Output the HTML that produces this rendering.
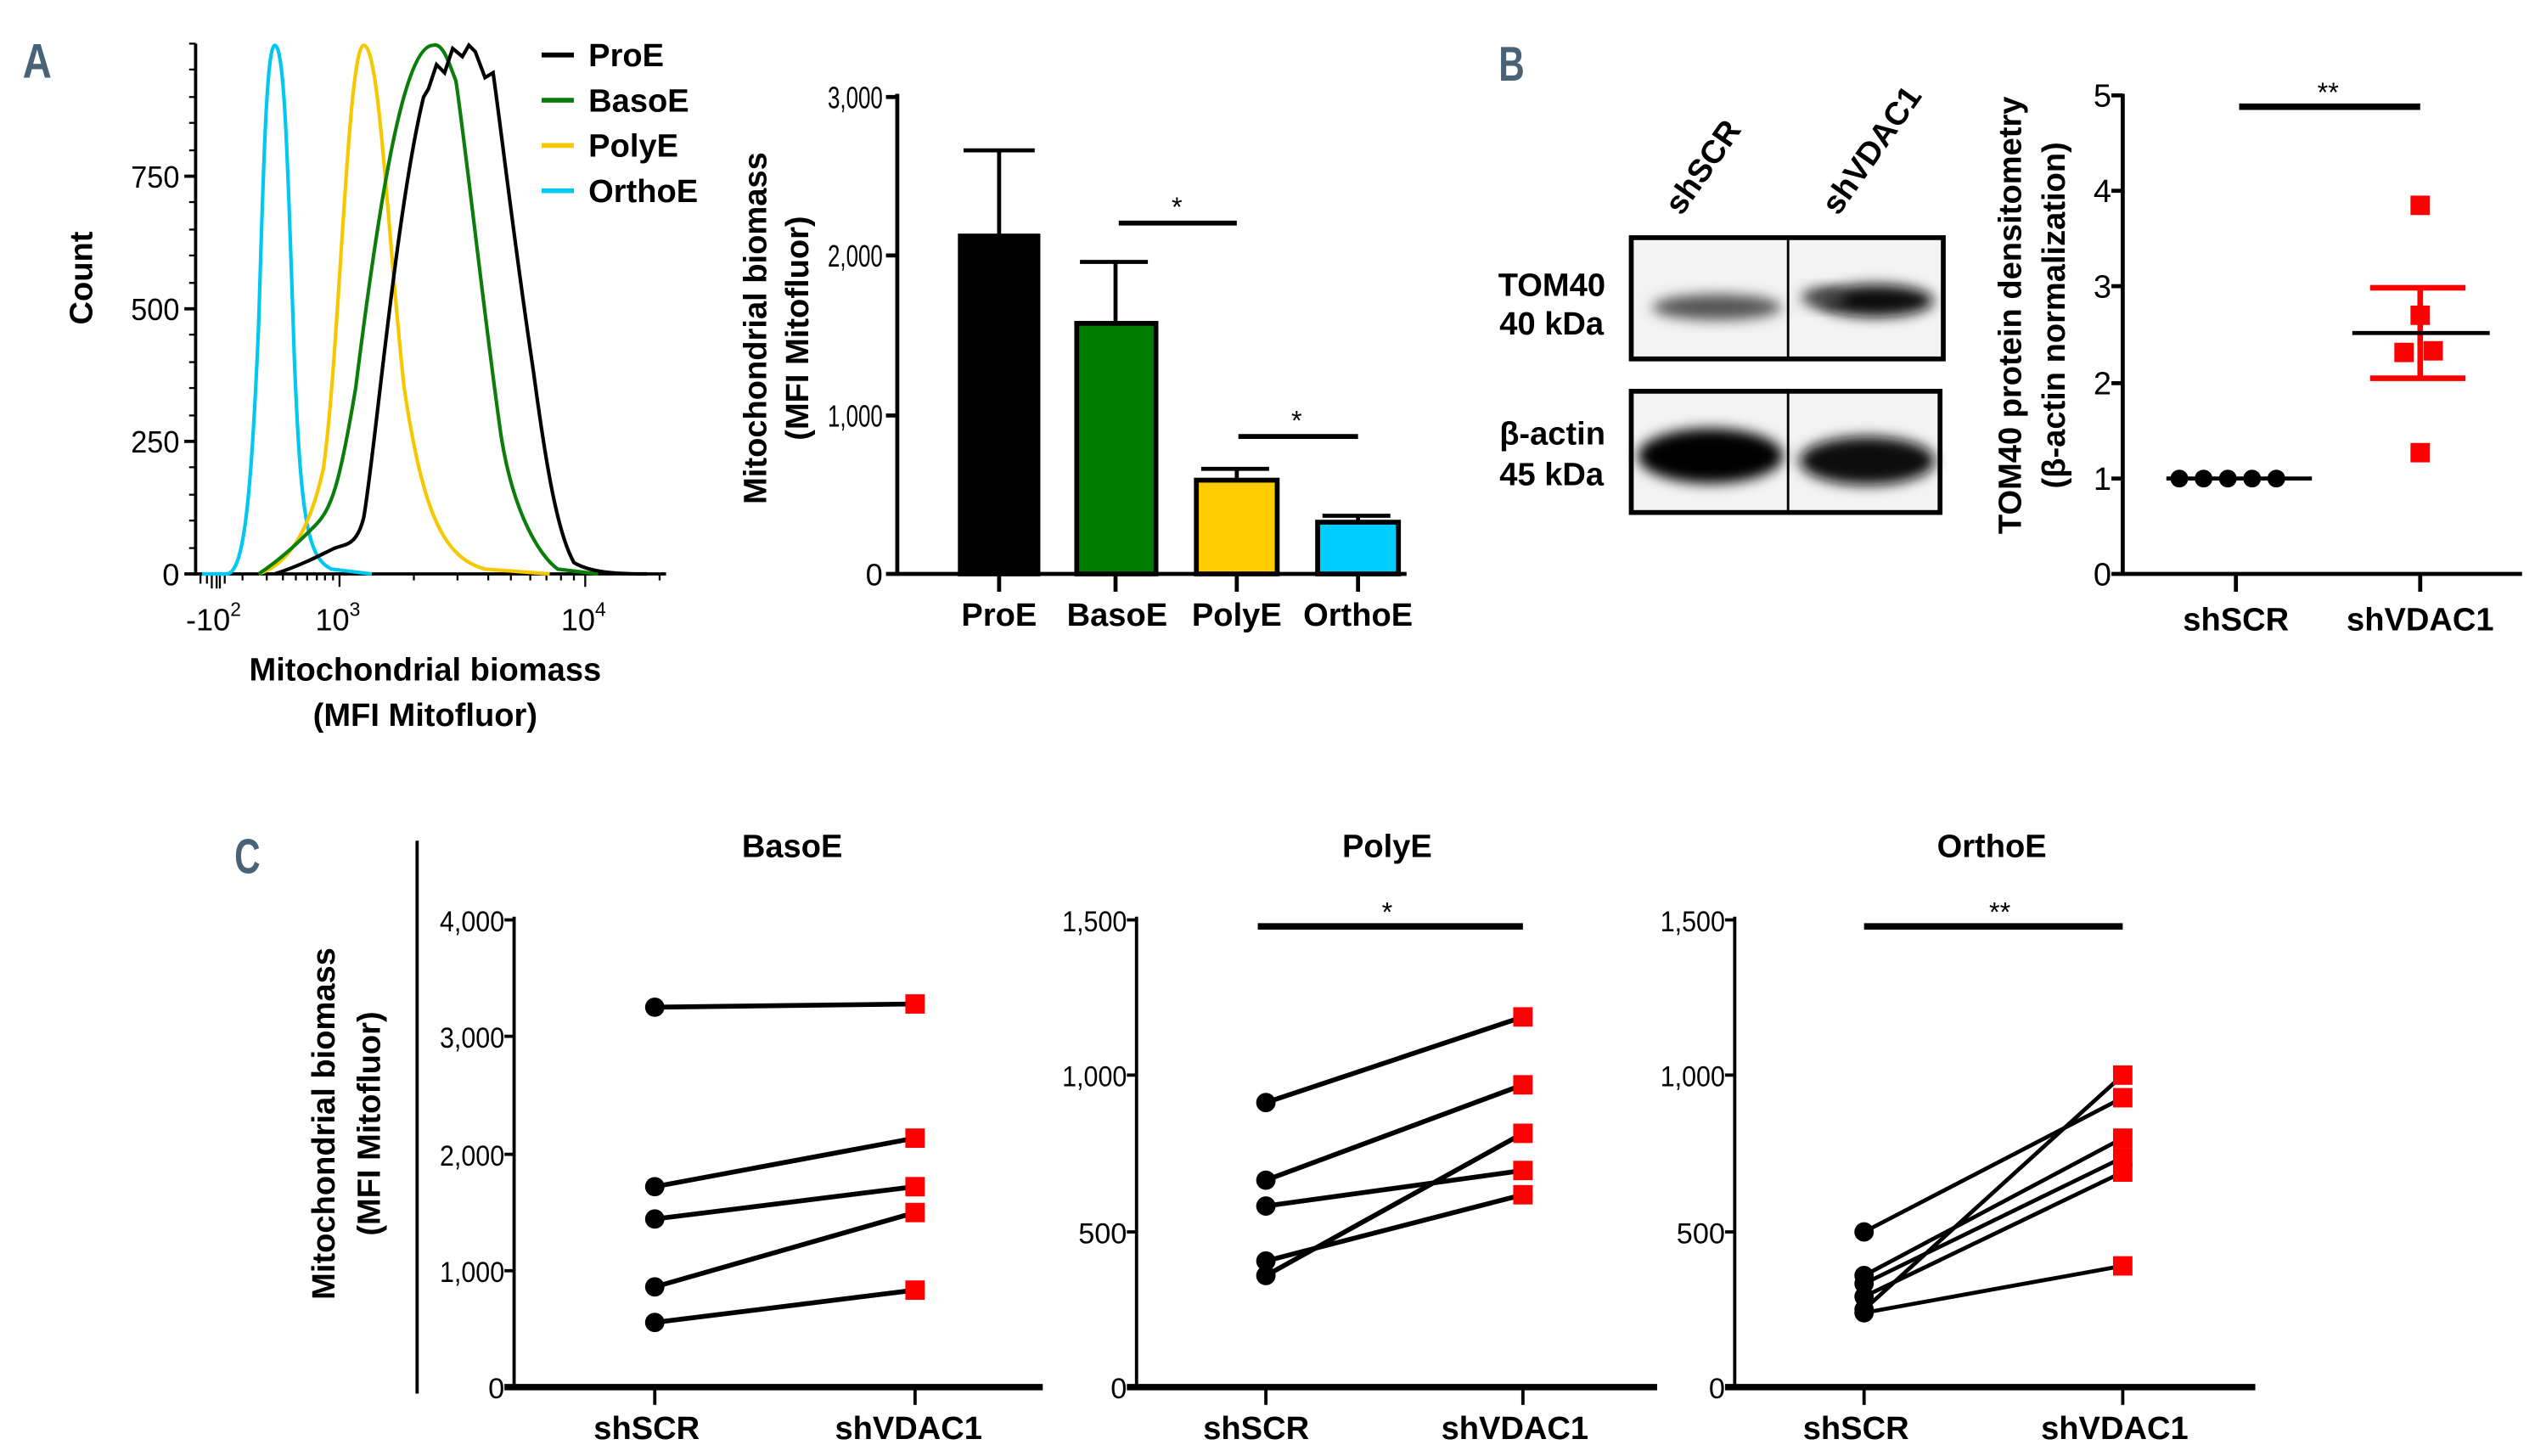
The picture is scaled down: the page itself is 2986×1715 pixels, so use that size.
<!DOCTYPE html>
<html><head><meta charset="utf-8"><style>
html,body{margin:0;padding:0;background:#fff;}
svg{display:block;}
text{font-family:"Liberation Sans",sans-serif;fill:#000;}
.b{font-weight:bold;}
.n{font-size:17px;}
</style></head><body>
<svg width="2986" height="1715" viewBox="0 0 1568 900.6" preserveAspectRatio="none" xmlns="http://www.w3.org/2000/svg">
<defs>
<filter id="bl" x="-20%" y="-50%" width="140%" height="200%"><feGaussianBlur stdDeviation="4"/></filter>
</defs>
<text x="14" y="48" font-size="30" style="fill:#4a6275" font-weight="bold" textLength="18" lengthAdjust="spacingAndGlyphs">A</text>
<text x="927" y="50" font-size="30" style="fill:#4a6275" font-weight="bold" textLength="16" lengthAdjust="spacingAndGlyphs">B</text>
<text x="145" y="540" font-size="30" style="fill:#4a6275" font-weight="bold" textLength="16" lengthAdjust="spacingAndGlyphs">C</text>

<!-- ===== Histogram ===== -->
<g stroke="#000" stroke-width="2" fill="none">
<line x1="121" y1="27" x2="121" y2="356"/>
<line x1="120" y1="355" x2="412" y2="355"/>
<line x1="114" y1="109" x2="121" y2="109"/><line x1="114" y1="191" x2="121" y2="191"/>
<line x1="114" y1="273" x2="121" y2="273"/><line x1="114" y1="355" x2="121" y2="355"/>
</g>
<g stroke="#000" stroke-width="1.2">
<line x1="117" y1="27" x2="121" y2="27"/><line x1="117" y1="43" x2="121" y2="43"/><line x1="117" y1="60" x2="121" y2="60"/><line x1="117" y1="76" x2="121" y2="76"/><line x1="117" y1="93" x2="121" y2="93"/>
<line x1="117" y1="125" x2="121" y2="125"/><line x1="117" y1="142" x2="121" y2="142"/><line x1="117" y1="158" x2="121" y2="158"/><line x1="117" y1="175" x2="121" y2="175"/>
<line x1="117" y1="207" x2="121" y2="207"/><line x1="117" y1="224" x2="121" y2="224"/><line x1="117" y1="240" x2="121" y2="240"/><line x1="117" y1="257" x2="121" y2="257"/>
<line x1="117" y1="289" x2="121" y2="289"/><line x1="117" y1="306" x2="121" y2="306"/><line x1="117" y1="322" x2="121" y2="322"/><line x1="117" y1="339" x2="121" y2="339"/>
<line x1="124" y1="355" x2="124" y2="361"/><line x1="128" y1="355" x2="128" y2="361"/><line x1="131" y1="355" x2="131" y2="364"/><line x1="134" y1="355" x2="134" y2="364"/><line x1="136" y1="355" x2="136" y2="364"/><line x1="139" y1="355" x2="139" y2="361"/>
<line x1="150" y1="355" x2="150" y2="359"/><line x1="165" y1="355" x2="165" y2="359"/><line x1="175" y1="355" x2="175" y2="359"/><line x1="183" y1="355" x2="183" y2="359"/><line x1="190" y1="355" x2="190" y2="359"/><line x1="196" y1="355" x2="196" y2="359"/><line x1="201" y1="355" x2="201" y2="359"/><line x1="206" y1="355" x2="206" y2="359"/>
<line x1="210" y1="355" x2="210" y2="363"/>
<line x1="256" y1="355" x2="256" y2="359"/><line x1="283" y1="355" x2="283" y2="359"/><line x1="302" y1="355" x2="302" y2="359"/><line x1="316" y1="355" x2="316" y2="359"/><line x1="328" y1="355" x2="328" y2="359"/><line x1="338" y1="355" x2="338" y2="359"/><line x1="347" y1="355" x2="347" y2="359"/><line x1="355" y1="355" x2="355" y2="359"/>
<line x1="362" y1="355" x2="362" y2="363"/><line x1="408" y1="355" x2="408" y2="359"/>
</g>
<g text-anchor="end" font-size="19">
<text x="111" y="116" textLength="30" lengthAdjust="spacingAndGlyphs">750</text>
<text x="111" y="198" textLength="30" lengthAdjust="spacingAndGlyphs">500</text>
<text x="111" y="280" textLength="30" lengthAdjust="spacingAndGlyphs">250</text>
<text x="111" y="362">0</text>
</g>
<text x="115" y="390" font-size="19">-10<tspan font-size="12" dy="-9">2</tspan></text>
<text x="195" y="390" font-size="19">10<tspan font-size="12" dy="-9">3</tspan></text>
<text x="347" y="390" font-size="19">10<tspan font-size="12" dy="-9">4</tspan></text>
<text class="b" font-size="20" transform="translate(57,172) rotate(-90)" text-anchor="middle">Count</text>
<text class="b" font-size="20" x="263" y="421" text-anchor="middle">Mitochondrial biomass</text>
<text class="b" font-size="20" x="263" y="449" text-anchor="middle">(MFI Mitofluor)</text>
<g fill="none" stroke-width="2.2">
<path stroke="#00c8f0" d="M125,355 L140,355 C150,355 155,320 160,200 C163,100 165,28 170,28 C176,28 178,100 182,220 C186,320 190,345 205,352 L230,355"/>
<path stroke="#f5c800" d="M160,355 C175,350 190,335 200,290 C210,220 215,28 225,28 C235,28 240,150 250,240 C262,320 275,345 300,352 L340,355"/>
<path stroke="#0a7d0a" d="M160,355 C175,345 185,335 195,325 C205,315 210,300 220,240 C235,120 250,28 268,28 C274,26 278,40 282,50 C288,90 300,200 310,270 C318,320 335,345 345,352 L370,355"/>
<path stroke="#000" d="M170,355 C185,350 195,345 205,340 C212,336 220,340 225,320 C232,280 245,130 262,60 L265,55 L270,40 L275,45 L280,30 L286,35 L290,28 L294,32 L300,48 L305,45 C310,80 318,150 330,230 C338,290 345,330 355,348 C365,354 380,355 400,355"/>
</g>
<g class="b" font-size="20">
<line x1="335" y1="34" x2="355" y2="34" stroke="#000" stroke-width="3"/><text x="364" y="41">ProE</text>
<line x1="335" y1="62" x2="355" y2="62" stroke="#0a7d0a" stroke-width="3"/><text x="364" y="69">BasoE</text>
<line x1="335" y1="90" x2="355" y2="90" stroke="#f5c800" stroke-width="3"/><text x="364" y="97">PolyE</text>
<line x1="335" y1="118" x2="355" y2="118" stroke="#00c8f0" stroke-width="3"/><text x="364" y="125">OrthoE</text>
</g>

<!-- ===== Bar chart ===== -->
<g stroke="#000" stroke-width="2.5">
<line x1="555" y1="58" x2="555" y2="356"/>
<line x1="548" y1="60" x2="555" y2="60"/><line x1="548" y1="158" x2="555" y2="158"/><line x1="548" y1="257" x2="555" y2="257"/>
<line x1="548" y1="355" x2="870" y2="355"/>
<line x1="618" y1="355" x2="618" y2="366"/><line x1="690" y1="355" x2="690" y2="366"/><line x1="765" y1="355" x2="765" y2="366"/><line x1="840" y1="355" x2="840" y2="366"/>
<line x1="618" y1="146" x2="618" y2="93"/><line x1="596" y1="93" x2="640" y2="93"/>
<line x1="690" y1="200" x2="690" y2="162"/><line x1="668" y1="162" x2="710" y2="162"/>
<line x1="765" y1="297" x2="765" y2="290"/><line x1="743" y1="290" x2="785" y2="290"/>
<line x1="840" y1="323" x2="840" y2="319"/><line x1="818" y1="319" x2="860" y2="319"/>
</g>
<rect x="594" y="146" width="48" height="209" fill="#000" stroke="#000" stroke-width="3"/>
<rect x="666" y="200" width="49" height="155" fill="#007d00" stroke="#000" stroke-width="3"/>
<rect x="740" y="297" width="50" height="58" fill="#ffcc00" stroke="#000" stroke-width="3"/>
<rect x="815" y="323" width="50" height="32" fill="#00ccff" stroke="#000" stroke-width="3"/>
<line x1="692" y1="138" x2="765" y2="138" stroke="#000" stroke-width="3"/>
<text x="728" y="134" font-size="17" text-anchor="middle">*</text>
<line x1="766" y1="270" x2="840" y2="270" stroke="#000" stroke-width="3"/>
<text x="802" y="266" font-size="17" text-anchor="middle">*</text>
<g font-size="19" text-anchor="end">
<text x="546" y="67" textLength="34" lengthAdjust="spacingAndGlyphs">3,000</text>
<text x="546" y="165" textLength="34" lengthAdjust="spacingAndGlyphs">2,000</text>
<text x="546" y="264" textLength="34" lengthAdjust="spacingAndGlyphs">1,000</text>
<text x="546" y="362">0</text>
</g>
<g class="b" font-size="20" text-anchor="middle">
<text x="618" y="387">ProE</text><text x="691" y="387">BasoE</text><text x="765" y="387">PolyE</text><text x="840" y="387">OrthoE</text>
</g>
<text class="b" font-size="20" transform="translate(474,203) rotate(-90)" text-anchor="middle">Mitochondrial biomass</text>
<text class="b" font-size="20" transform="translate(500,203) rotate(-90)" text-anchor="middle">(MFI Mitofluor)</text>

<!-- ===== Western blot ===== -->
<text class="b" font-size="20" transform="translate(1040,134) rotate(-55)">shSCR</text>
<text class="b" font-size="20" transform="translate(1137,134) rotate(-55)">shVDAC1</text>
<g class="b" font-size="20" text-anchor="end">
<text x="993" y="183">TOM40</text><text x="992" y="207">40 kDa</text>
<text x="993" y="275">β-actin</text><text x="992" y="300">45 kDa</text>
</g>
<rect x="1009" y="147" width="193" height="75" fill="#f3f3f3" stroke="#000" stroke-width="3"/>
<rect x="1009" y="242" width="191" height="75" fill="#f3f3f3" stroke="#000" stroke-width="3"/>
<ellipse cx="1062" cy="190" rx="40" ry="8" fill="#555" filter="url(#bl)"/>
<ellipse cx="1160" cy="186" rx="36" ry="10" fill="#111" filter="url(#bl)"/>
<ellipse cx="1128" cy="184" rx="14" ry="6" fill="#444" filter="url(#bl)"/>
<ellipse cx="1058" cy="282" rx="45" ry="17" fill="#000" filter="url(#bl)"/>
<ellipse cx="1155" cy="285" rx="42" ry="15" fill="#111" filter="url(#bl)"/>
<line x1="1106" y1="147" x2="1106" y2="222" stroke="#000" stroke-width="1.5"/>
<line x1="1106" y1="242" x2="1106" y2="317" stroke="#000" stroke-width="1.5"/>

<!-- ===== Scatter B ===== -->
<g stroke="#000" stroke-width="2.5">
<line x1="1313" y1="58" x2="1313" y2="356"/>
<line x1="1306" y1="59" x2="1313" y2="59"/><line x1="1306" y1="118" x2="1313" y2="118"/><line x1="1306" y1="177" x2="1313" y2="177"/><line x1="1306" y1="237" x2="1313" y2="237"/><line x1="1306" y1="296" x2="1313" y2="296"/>
<line x1="1306" y1="355" x2="1560" y2="355"/>
<line x1="1383" y1="355" x2="1383" y2="366"/><line x1="1497" y1="355" x2="1497" y2="366"/>
<line x1="1385" y1="66" x2="1497" y2="66" stroke-width="4"/>
<line x1="1340" y1="296" x2="1430" y2="296"/>
</g>
<text x="1440" y="63" font-size="17" text-anchor="middle">**</text>
<g fill="#000"><circle cx="1348" cy="296" r="5.5"/><circle cx="1363" cy="296" r="5.5"/><circle cx="1378" cy="296" r="5.5"/><circle cx="1393" cy="296" r="5.5"/><circle cx="1408" cy="296" r="5.5"/></g>
<g fill="#f00"><rect x="1491" y="121" width="12" height="12"/><rect x="1491" y="189" width="12" height="12"/><rect x="1481" y="212" width="12" height="12"/><rect x="1499" y="211" width="12" height="12"/><rect x="1491" y="274" width="12" height="12"/></g>
<g stroke="#f00" stroke-width="3.5">
<line x1="1497" y1="178" x2="1497" y2="234"/><line x1="1466" y1="178" x2="1525" y2="178"/><line x1="1466" y1="234" x2="1525" y2="234"/>
</g>
<line x1="1455" y1="206" x2="1540" y2="206" stroke="#000" stroke-width="2.5"/>
<g font-size="20" text-anchor="end">
<text x="1306" y="66">5</text><text x="1306" y="125">4</text><text x="1306" y="184">3</text><text x="1306" y="244">2</text><text x="1306" y="303">1</text><text x="1306" y="362">0</text>
</g>
<g class="b" font-size="20" text-anchor="middle"><text x="1383" y="390">shSCR</text><text x="1497" y="390">shVDAC1</text></g>
<text class="b" font-size="20" transform="translate(1250,195) rotate(-90)" text-anchor="middle">TOM40 protein densitometry</text>
<text class="b" font-size="20" transform="translate(1277,195) rotate(-90)" text-anchor="middle">(β-actin normalization)</text>

<!-- ===== Panel C ===== -->
<line x1="258" y1="520" x2="258" y2="862" stroke="#000" stroke-width="2"/>
<text class="b" font-size="20" transform="translate(207,695) rotate(-90)" text-anchor="middle">Mitochondrial biomass</text>
<text class="b" font-size="20" transform="translate(235,695) rotate(-90)" text-anchor="middle">(MFI Mitofluor)</text>
<g class="b" font-size="20" text-anchor="middle"><text x="490" y="530">BasoE</text><text x="858" y="530">PolyE</text><text x="1232" y="530">OrthoE</text></g>

<g stroke="#000" stroke-width="2">
<line x1="318" y1="567" x2="318" y2="858"/>
<line x1="312" y1="569" x2="318" y2="569"/><line x1="312" y1="641" x2="318" y2="641"/><line x1="312" y1="714" x2="318" y2="714"/><line x1="312" y1="786" x2="318" y2="786"/>
<line x1="312" y1="858" x2="645" y2="858" stroke-width="4"/>
<line x1="405" y1="858" x2="405" y2="869"/><line x1="566" y1="858" x2="566" y2="869"/>
</g>
<g font-size="18" text-anchor="end">
<text x="312" y="576" textLength="40" lengthAdjust="spacingAndGlyphs">4,000</text>
<text x="312" y="648" textLength="40" lengthAdjust="spacingAndGlyphs">3,000</text>
<text x="312" y="721" textLength="40" lengthAdjust="spacingAndGlyphs">2,000</text>
<text x="312" y="793" textLength="40" lengthAdjust="spacingAndGlyphs">1,000</text>
<text x="312" y="865">0</text>
</g>
<g stroke="#000" stroke-width="3">
<line x1="405" y1="623" x2="566" y2="621"/>
<line x1="405" y1="734" x2="566" y2="704"/>
<line x1="405" y1="754" x2="566" y2="734"/>
<line x1="405" y1="796" x2="566" y2="750"/>
<line x1="405" y1="818" x2="566" y2="798"/>
</g>
<g fill="#000"><circle cx="405" cy="623" r="6"/><circle cx="405" cy="734" r="6"/><circle cx="405" cy="754" r="6"/><circle cx="405" cy="796" r="6"/><circle cx="405" cy="818" r="6"/></g>
<g fill="#f00"><rect x="560" y="615" width="12" height="12"/><rect x="560" y="698" width="12" height="12"/><rect x="560" y="728" width="12" height="12"/><rect x="560" y="744" width="12" height="12"/><rect x="560" y="792" width="12" height="12"/></g>
<g class="b" font-size="20" text-anchor="middle"><text x="400" y="890">shSCR</text><text x="562" y="890">shVDAC1</text></g>

<g stroke="#000" stroke-width="2">
<line x1="703" y1="567" x2="703" y2="858"/>
<line x1="697" y1="569" x2="703" y2="569"/><line x1="697" y1="665" x2="703" y2="665"/><line x1="697" y1="762" x2="703" y2="762"/>
<line x1="697" y1="858" x2="1025" y2="858" stroke-width="4"/>
<line x1="783" y1="858" x2="783" y2="869"/><line x1="942" y1="858" x2="942" y2="869"/>
<line x1="778" y1="573" x2="942" y2="573" stroke-width="4"/>
</g>
<text x="858" y="570" font-size="17" text-anchor="middle">*</text>
<g font-size="18" text-anchor="end">
<text x="697" y="576" textLength="40" lengthAdjust="spacingAndGlyphs">1,500</text>
<text x="697" y="672" textLength="40" lengthAdjust="spacingAndGlyphs">1,000</text>
<text x="697" y="769" textLength="30" lengthAdjust="spacingAndGlyphs">500</text>
<text x="697" y="865">0</text>
</g>
<g stroke="#000" stroke-width="3">
<line x1="783" y1="682" x2="942" y2="629"/>
<line x1="783" y1="730" x2="942" y2="671"/>
<line x1="783" y1="746" x2="942" y2="724"/>
<line x1="783" y1="780" x2="942" y2="739"/>
<line x1="783" y1="789" x2="942" y2="701"/>
</g>
<g fill="#000"><circle cx="783" cy="682" r="6"/><circle cx="783" cy="730" r="6"/><circle cx="783" cy="746" r="6"/><circle cx="783" cy="780" r="6"/><circle cx="783" cy="789" r="6"/></g>
<g fill="#f00"><rect x="936" y="623" width="12" height="12"/><rect x="936" y="665" width="12" height="12"/><rect x="936" y="695" width="12" height="12"/><rect x="936" y="718" width="12" height="12"/><rect x="936" y="733" width="12" height="12"/></g>
<g class="b" font-size="20" text-anchor="middle"><text x="777" y="890">shSCR</text><text x="937" y="890">shVDAC1</text></g>

<g stroke="#000" stroke-width="2">
<line x1="1073" y1="567" x2="1073" y2="858"/>
<line x1="1067" y1="569" x2="1073" y2="569"/><line x1="1067" y1="665" x2="1073" y2="665"/><line x1="1067" y1="762" x2="1073" y2="762"/>
<line x1="1067" y1="858" x2="1395" y2="858" stroke-width="4"/>
<line x1="1153" y1="858" x2="1153" y2="869"/><line x1="1313" y1="858" x2="1313" y2="869"/>
<line x1="1153" y1="573" x2="1313" y2="573" stroke-width="4"/>
</g>
<text x="1237" y="570" font-size="17" text-anchor="middle">**</text>
<g font-size="18" text-anchor="end">
<text x="1067" y="576" textLength="40" lengthAdjust="spacingAndGlyphs">1,500</text>
<text x="1067" y="672" textLength="40" lengthAdjust="spacingAndGlyphs">1,000</text>
<text x="1067" y="769" textLength="30" lengthAdjust="spacingAndGlyphs">500</text>
<text x="1067" y="865">0</text>
</g>
<g stroke="#000" stroke-width="2.5">
<line x1="1153" y1="762" x2="1313" y2="679"/>
<line x1="1153" y1="789" x2="1313" y2="704"/>
<line x1="1153" y1="794" x2="1313" y2="716"/>
<line x1="1153" y1="802" x2="1313" y2="725"/>
<line x1="1153" y1="810" x2="1313" y2="665"/>
<line x1="1153" y1="812" x2="1313" y2="783"/>
</g>
<g fill="#000"><circle cx="1153" cy="762" r="6"/><circle cx="1153" cy="789" r="6"/><circle cx="1153" cy="794" r="6"/><circle cx="1153" cy="802" r="6"/><circle cx="1153" cy="810" r="6"/><circle cx="1153" cy="812" r="6"/></g>
<g fill="#f00"><rect x="1307" y="659" width="12" height="12"/><rect x="1307" y="673" width="12" height="12"/><rect x="1307" y="698" width="12" height="12"/><rect x="1307" y="710" width="12" height="12"/><rect x="1307" y="719" width="12" height="12"/><rect x="1307" y="777" width="12" height="12"/></g>
<g class="b" font-size="20" text-anchor="middle"><text x="1148" y="890">shSCR</text><text x="1308" y="890">shVDAC1</text></g>
</svg>
</body></html>
